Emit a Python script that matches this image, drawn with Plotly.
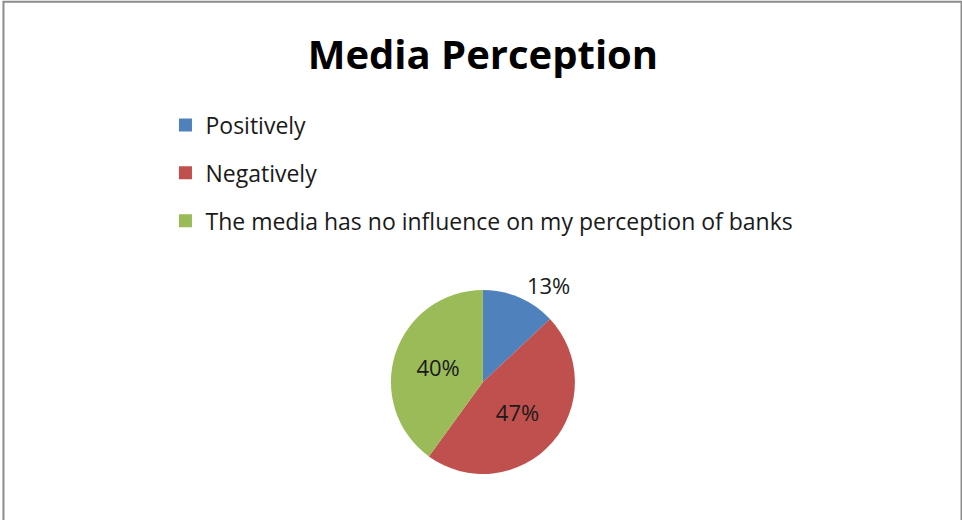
import plotly.graph_objects as go

# Survey responses: how the media shapes perception of banks
labels = ["Positively", "Negatively", "The media has no influence on my perception of banks"]
shares = [13, 47, 40]
colors = ["#4F81BD", "#C0504D", "#9BBB59"]
label_pos = ["outside", "inside", "inside"]

FONT = "Open Sans"
TEXT = "#1a1a1a"

fig = go.Figure()

fig.add_trace(go.Pie(
    labels=labels,
    values=shares,
    marker=dict(colors=colors, line=dict(width=0)),
    sort=False,
    direction="clockwise",
    rotation=0,
    texttemplate="%{percent:.0%}",
    textposition=label_pos,
    insidetextorientation="horizontal",
    textfont=dict(family=FONT, size=22, color=TEXT),
    showlegend=False,
    hoverinfo="label+percent",
    domain=dict(x=[0.35, 0.654], y=[0.0885, 0.4423]),
))

# Legend entries: one group per category so the rows can be spaced apart
for i, (lab, col) in enumerate(zip(labels, colors)):
    fig.add_trace(go.Scatter(
        x=[None], y=[None], mode="markers", name=lab,
        marker=dict(symbol="square", size=13, color=col),
        legendgroup=f"g{i}", showlegend=True,
    ))

fig.update_layout(
    width=962, height=520,
    margin=dict(l=0, r=0, t=0, b=0),
    paper_bgcolor="white", plot_bgcolor="white",
    title=dict(text="<b>Media Perception</b>", x=0.502, xanchor="center",
               y=0.895, yanchor="middle",
               font=dict(family=FONT, size=40, color="#000000")),
    legend=dict(x=0.172, xanchor="left", y=0.801, yanchor="top",
                font=dict(family=FONT, size=23, color=TEXT),
                tracegroupgap=15, bgcolor="rgba(0,0,0,0)"),
    xaxis=dict(visible=False), yaxis=dict(visible=False),
    shapes=[dict(type="rect", xref="paper", yref="paper",
                 x0=0.0036, x1=0.9995, y0=-0.05, y1=0.9965,
                 line=dict(color="#8C8C8C", width=2))],
)

fig.write_html("out.html")
